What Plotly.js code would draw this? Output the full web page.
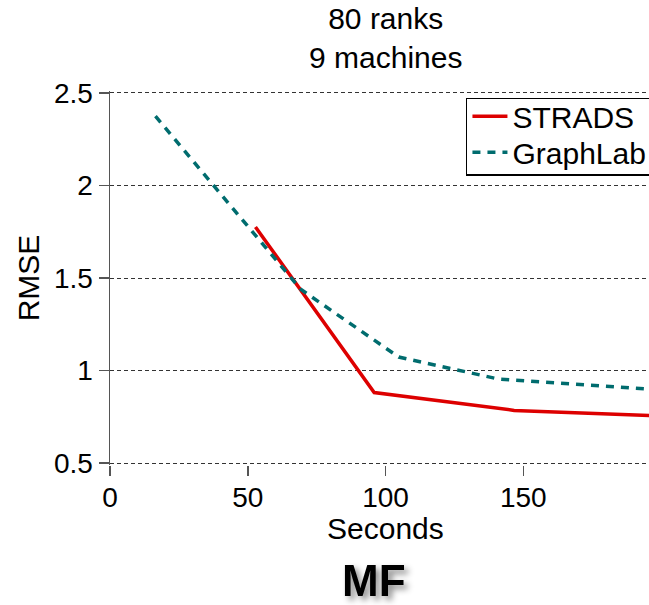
<!DOCTYPE html>
<html>
<head>
<meta charset="utf-8">
<script src="https://cdn.plot.ly/plotly-3.0.1.min.js"></script>
<style>
  html, body { margin: 0; padding: 0; overflow: hidden; background: #fff; }
  #chart { width: 661px; height: 605px; }
</style>
</head>
<body>
<div id="chart"></div>
<script>
// ---- data ----
const stradsX = [52.8, 95.9, 146.7, 200];
const stradsY = [1.776, 0.881, 0.785, 0.755];
const graphlabX = [16.5, 69.2, 104.8, 140.8, 200];
const graphlabY = [2.374, 1.439, 1.073, 0.955, 0.895];
const seriesNames = ["STRADS", "GraphLab"];
const xTicks = [0, 50, 100, 150, 200];
const yTicks = [0.5, 1, 1.5, 2, 2.5];
const titleLines = ["80 ranks", "9 machines"];
const xTitle = "Seconds";
const yTitle = "RMSE";
const caption = "MF";

const FONT = "Liberation Sans, Arial, Helvetica, sans-serif";

const traces = [
  {
    x: stradsX, y: stradsY, name: seriesNames[0], mode: "lines",
    line: { color: "#dd0000", width: 3.5 }
  },
  {
    x: graphlabX, y: graphlabY, name: seriesNames[1], mode: "lines",
    line: { color: "#006c6e", width: 3.5, dash: "8px,7px" }
  }
];

const layout = {
  width: 661, height: 605,
  margin: { l: 110, r: 0, t: 91, b: 140, autoexpand: false },
  paper_bgcolor: "#fff", plot_bgcolor: "#fff",
  font: { family: FONT, color: "#000", size: 28 },
  showlegend: true,
  legend: {
    x: 0.646, xanchor: "left", y: 0.982, yanchor: "top",
    bgcolor: "#fff", bordercolor: "#000", borderwidth: 1.5,
    font: { family: FONT, size: 30, color: "#000" },
    itemwidth: 35,
    tracegroupgap: 0
  },
  xaxis: {
    range: [0, 200],
    tickvals: xTicks, ticktext: xTicks.map(String),
    ticks: "outside", ticklen: 10, tickcolor: "#555", tickwidth: 1.5,
    ticklabelstandoff: -3,
    showgrid: false, zeroline: false, showline: false,
    tickfont: { family: FONT, size: 28, color: "#000" }
  },
  yaxis: {
    range: [0.49, 2.51],
    tickvals: yTicks, ticktext: yTicks.map(String),
    ticks: "outside", ticklen: 10, tickcolor: "#555", tickwidth: 1.5,
    showline: true, linecolor: "#555", linewidth: 1.5,
    showgrid: true, gridcolor: "#333", gridwidth: 1, griddash: "4px,3px",
    zeroline: false,
    tickfont: { family: FONT, size: 28, color: "#000" },
    title: { text: yTitle, font: { family: FONT, size: 30, color: "#000" }, standoff: 5 }
  },
  annotations: [
    {
      text: titleLines.join("<br>"),
      xref: "paper", yref: "paper",
      x: 0.5, y: 1.1414, xanchor: "center", yanchor: "middle",
      showarrow: false,
      font: { family: FONT, size: 30, color: "#000" }
    },
    {
      text: xTitle,
      xref: "paper", yref: "paper",
      x: 0.5, y: -0.1697, xanchor: "center", yanchor: "middle",
      showarrow: false,
      font: { family: FONT, size: 30, color: "#000" }
    },
    {
      text: "<b>" + caption + "</b>",
      xref: "paper", yref: "paper",
      x: 0.48, y: -0.309, xanchor: "center", yanchor: "middle",
      showarrow: false,
      font: { family: FONT, size: 44, color: "#000" }
    }
  ]
};

Plotly.newPlot("chart", traces, layout, { displayModeBar: false, staticPlot: true }).then(function (gd) {
  // soft shadow under the caption
  const ann = gd.querySelectorAll(".annotation-text");
  if (ann.length > 2) {
    ann[ann.length - 1].style.filter = "drop-shadow(4px 4px 3px rgba(0,0,0,0.45))";
  }
  // tighten legend row spacing to match the reference
  const items = gd.querySelectorAll(".legend .traces");
  const shifts = [-9, -15];
  items.forEach(function (el, i) {
    const tr = el.getAttribute("transform") || "";
    const m = tr.match(/translate\(\s*([-\d.]+)[ ,]+([-\d.]+)\s*\)/);
    if (m) {
      el.setAttribute("transform", "translate(" + m[1] + "," + (parseFloat(m[2]) + shifts[i]) + ")");
    }
  });
  const bg = gd.querySelector(".legend .bg");
  if (bg) {
    const h = parseFloat(bg.getAttribute("height"));
    bg.setAttribute("height", h - 19);
    const w = parseFloat(bg.getAttribute("width"));
    bg.setAttribute("width", w + 20);
  }
});
</script>
</body>
</html>
